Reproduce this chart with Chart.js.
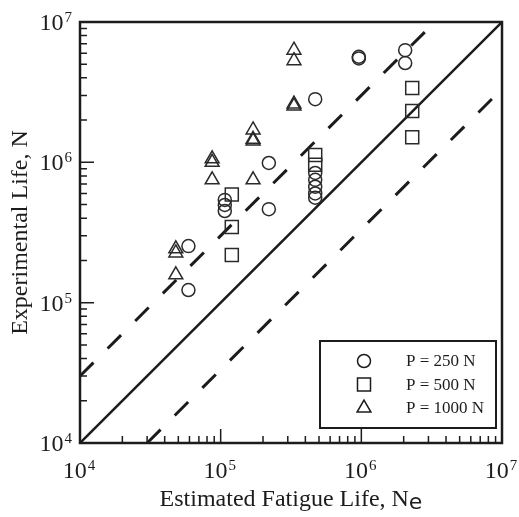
<!DOCTYPE html>
<html>
<head>
<meta charset="utf-8">
<script src="https://cdn.jsdelivr.net/npm/chart.js@4/dist/chart.umd.min.js"></script>
<style>
    html, body { margin: 0; padding: 0; background: #fff; }
    #wrap { width: 519px; height: 517px; }
</style>
</head>
<body>
<div id="wrap"><canvas id="fatigueChart" width="519" height="517"></canvas></div>
<script>

// Estimated fatigue life (x) vs. experimental life (y).
var p250Estimated = [5.9e4, 5.9e4, 1.07e5, 1.07e5, 1.07e5, 2.2e5, 2.2e5, 4.7e5, 4.7e5, 4.7e5, 4.7e5, 4.7e5, 4.7e5, 9.6e5, 9.6e5, 2.05e6, 2.05e6];
var p250Experimental = [2.53e5, 1.23e5, 5.4e5, 4.97e5, 4.5e5, 9.9e5, 4.64e5, 2.82e6, 8.4e5, 7.5e5, 6.7e5, 6.0e5, 5.6e5, 5.65e6, 5.5e6, 6.3e6, 5.1e6];

var p500Estimated = [1.2e5, 1.2e5, 1.2e5, 4.7e5, 4.7e5, 2.3e6, 2.3e6, 2.3e6];
var p500Experimental = [5.9e5, 3.46e5, 2.19e5, 1.13e6, 9.6e5, 3.39e6, 2.32e6, 1.51e6];

var p1000Estimated = [4.8e4, 4.8e4, 4.8e4, 8.7e4, 8.7e4, 8.7e4, 1.7e5, 1.7e5, 1.7e5, 1.7e5, 3.32e5, 3.32e5, 3.32e5, 3.32e5];
var p1000Experimental = [2.42e5, 2.26e5, 1.58e5, 1.06e6, 1.0e6, 7.5e5, 1.7e6, 1.46e6, 1.42e6, 7.5e5, 6.3e6, 5.3e6, 2.6e6, 2.52e6];

var seriesLabels = ['P = 250 N', 'P = 500 N', 'P = 1000 N'];

// Reference lines: N = Ne and the factor-of-3 scatter band.
var perfectLine = [[1e4, 1e4], [1e7, 1e7]];
var upperBand = [[1e4, 3e4], [1e7 / 3, 1e7]];
var lowerBand = [[3e4, 1e4], [1e7, 1e7 / 3]];

var axisMin = 1e4;
var axisMax = 1e7;
var decadeTicks = [1e4, 1e5, 1e6, 1e7];

var ink = '#1c1c1c';
var serif = '"Liberation Serif", "Times New Roman", serif';

var toPoints = function (xs, ys) {
    return xs.map(function (x, i) { return { x: x, y: ys[i] }; });
};

var pairsToPoints = function (pairs) {
    return pairs.map(function (p) { return { x: p[0], y: p[1] }; });
};

// "10" with a raised exponent, y is the baseline of the "10".
var drawPower = function (ctx, exponent, x, y, align) {
    ctx.font = '24px ' + serif;
    var baseW = ctx.measureText('10').width;
    ctx.font = '15px ' + serif;
    var expW = ctx.measureText(String(exponent)).width;
    var total = baseW + 1 + expW;
    var left = align === 'right' ? x - total : x - total / 2;
    ctx.textAlign = 'left';
    ctx.textBaseline = 'alphabetic';
    ctx.font = '24px ' + serif;
    ctx.fillText('10', left, y);
    ctx.font = '15px ' + serif;
    ctx.fillText(String(exponent), left + baseW + 1, y - 8);
};

var drawMarker = function (ctx, style, x, y, r) {
    ctx.beginPath();
    if (style === 'circle') {
        ctx.arc(x, y, r, 0, Math.PI * 2);
    } else if (style === 'rect') {
        var s = Math.SQRT1_2 * r;
        ctx.rect(x - s, y - s, 2 * s, 2 * s);
    } else {
        ctx.moveTo(x, y - r);
        ctx.lineTo(x + 0.866 * r, y + 0.5 * r);
        ctx.lineTo(x - 0.866 * r, y + 0.5 * r);
        ctx.closePath();
    }
    ctx.stroke();
};

// Frame, inward log ticks, power-of-ten labels, axis titles and the boxed legend.
var framePlugin = {
    id: 'frame',
    afterDraw: function (chart) {
        var ctx = chart.ctx;
        var area = chart.chartArea;
        var xs = chart.scales.x;
        var ys = chart.scales.y;

        ctx.save();
        ctx.strokeStyle = ink;
        ctx.fillStyle = ink;

        ctx.lineWidth = 1.5;
        decadeTicks.forEach(function (d) {
            for (var m = 1; m <= 9; m++) {
                var v = d * m;
                if (v > axisMax) { break; }
                var len = m === 1 ? 14 : 7;
                var px = xs.getPixelForValue(v);
                var py = ys.getPixelForValue(v);
                ctx.beginPath();
                ctx.moveTo(px, area.bottom);
                ctx.lineTo(px, area.bottom - len);
                ctx.moveTo(area.left, py);
                ctx.lineTo(area.left + len, py);
                ctx.stroke();
            }
        });

        ctx.lineWidth = 2.5;
        ctx.strokeRect(area.left, area.top, area.right - area.left, area.bottom - area.top);

        decadeTicks.forEach(function (d) {
            var e = Math.round(Math.log10(d));
            drawPower(ctx, e, xs.getPixelForValue(d) - 1, area.bottom + 35, 'center');
            drawPower(ctx, e, area.left - 8, ys.getPixelForValue(d) + 8, 'right');
        });

        // x title with subscript e
        var xTitle = 'Estimated Fatigue Life, N';
        ctx.font = '24px ' + serif;
        var tW = ctx.measureText(xTitle).width;
        ctx.font = '22px "DejaVu Sans", sans-serif';
        var sW = ctx.measureText('e').width;
        var startX = (area.left + area.right) / 2 - (tW + sW) / 2;
        ctx.textAlign = 'left';
        ctx.textBaseline = 'alphabetic';
        ctx.font = '24px ' + serif;
        ctx.fillText(xTitle, startX, area.bottom + 63);
        ctx.font = '22px "DejaVu Sans", sans-serif';
        ctx.fillText('e', startX + tW, area.bottom + 66);

        // y title
        ctx.save();
        ctx.translate(21, (area.top + area.bottom) / 2);
        ctx.rotate(-Math.PI / 2);
        ctx.textAlign = 'center';
        ctx.textBaseline = 'middle';
        ctx.font = '24px ' + serif;
        ctx.fillText('Experimental Life, N', 0, 0);
        ctx.restore();

        // legend box
        var box = { left: 320, top: 341, width: 176, height: 87 };
        ctx.fillStyle = '#fff';
        ctx.fillRect(box.left, box.top, box.width, box.height);
        ctx.lineWidth = 2;
        ctx.strokeRect(box.left, box.top, box.width, box.height);
        ctx.fillStyle = ink;
        ctx.font = '17px ' + serif;
        ctx.textAlign = 'left';
        ctx.textBaseline = 'middle';
        ctx.lineWidth = 1.5;
        var markerDatasets = chart.data.datasets.filter(function (ds) { return ds.isMarker; });
        markerDatasets.forEach(function (ds, i) {
            var rowY = box.top + 20 + i * 23.5;
            drawMarker(ctx, ds.pointStyle, 364, rowY, ds.pointRadius);
            ctx.fillText(ds.label, 406, rowY + 1);
        });

        ctx.restore();
    }
};

var markerSet = function (label, xs, ys, style, radius) {
    return {
        label: label,
        isMarker: true,
        data: toPoints(xs, ys),
        pointStyle: style,
        pointRadius: radius,
        pointHoverRadius: radius,
        pointBorderWidth: 1.5,
        borderColor: '#2a2a2a',
        backgroundColor: 'rgba(0,0,0,0)',
        showLine: false
    };
};

var lineSet = function (label, pairs, width, dash) {
    return {
        label: label,
        data: pairsToPoints(pairs),
        showLine: true,
        borderColor: ink,
        borderWidth: width,
        borderDash: dash,
        pointRadius: 0,
        pointHoverRadius: 0,
        fill: false
    };
};

var config = {
    type: 'scatter',
    data: {
        datasets: [
            markerSet(seriesLabels[0], p250Estimated, p250Experimental, 'circle', 6.5),
            markerSet(seriesLabels[1], p500Estimated, p500Experimental, 'rect', 9.2),
            markerSet(seriesLabels[2], p1000Estimated, p1000Experimental, 'triangle', 8),
            lineSet('N = Ne', perfectLine, 2.5, []),
            lineSet('N = 3 Ne', upperBand, 3, [19, 20]),
            lineSet('N = Ne / 3', lowerBand, 3, [19, 20])
        ]
    },
    options: {
        responsive: false,
        animation: false,
        layout: {
            padding: { left: 80, top: 22, right: 17, bottom: 74 }
        },
        plugins: {
            legend: { display: false },
            tooltip: { enabled: false },
            title: { display: false }
        },
        scales: {
            x: { type: 'logarithmic', min: axisMin, max: axisMax, display: false },
            y: { type: 'logarithmic', min: axisMin, max: axisMax, display: false }
        }
    },
    plugins: [framePlugin]
};

var ctx = document.getElementById('fatigueChart').getContext('2d');
var fatigueChart = new Chart(ctx, config);

</script>
</body>
</html>
